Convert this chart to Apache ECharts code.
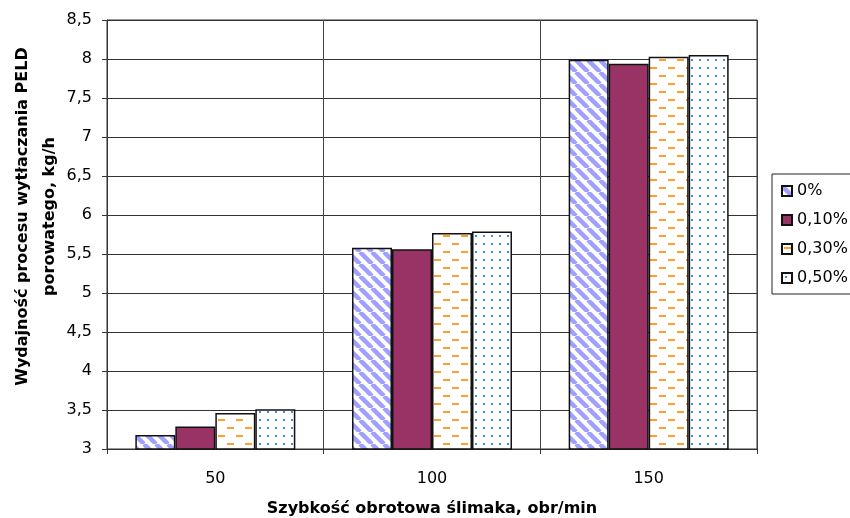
<!DOCTYPE html>
<html>
<head>
<meta charset="utf-8">
<script src="https://cdn.jsdelivr.net/npm/echarts@6/dist/echarts.min.js"></script>
<style>html,body{margin:0;padding:0;background:#fff;}#chart{width:850px;height:518px;}</style>
</head>
<body>
<div id="chart"></div>
<script>
const categories = ['50', '100', '150'];
const seriesNames = ['0%', '0,10%', '0,30%', '0,50%'];
const s0 = [3.18, 5.58, 7.99];
const s10 = [3.29, 5.56, 7.94];
const s30 = [3.46, 5.77, 8.03];
const s50 = [3.51, 5.79, 8.05];
const yTitle = 'Wydajność procesu wytłaczania PELD\nporowatego, kg/h';
const xTitle = 'Szybkość obrotowa ślimaka, obr/min';

function mk(w, h, draw) {
  const c = document.createElement('canvas');
  c.width = w; c.height = h;
  const g = c.getContext('2d');
  g.fillStyle = '#fff'; g.fillRect(0, 0, w, h);
  draw(g);
  return c;
}
const stripe = mk(12, 12, g => {
  g.strokeStyle = '#A0A0FF'; g.lineWidth = 4.5;
  for (let k = -24; k <= 24; k += 12) {
    g.beginPath(); g.moveTo(k, 0); g.lineTo(k + 12, 12); g.stroke();
  }
});
const dashes = mk(18, 16, g => {
  g.fillStyle = '#FFA028';
  g.fillRect(2, 3, 7, 2);
  g.fillRect(11, 11, 7, 2);
});
const dots = mk(8, 8, g => {
  g.fillStyle = '#3F8FE0';
  g.fillRect(3, 3, 2, 2);
});
const fills = [
  {image: stripe, repeat: 'repeat'},
  '#993366',
  {image: dashes, repeat: 'repeat'},
  {image: dots, repeat: 'repeat'}
];
const datas = [s0, s10, s30, s50];
const FONT = 'DejaVu Sans, sans-serif';

const chart = echarts.init(document.getElementById('chart'), null, {renderer: 'canvas'});
chart.setOption({
  animation: false,
  backgroundColor: '#fff',
  textStyle: {fontFamily: FONT},
  grid: {left: 107, right: 93, top: 20, bottom: 69, outerBoundsMode: 'none', containLabel: false, show: true, borderColor: '#333', borderWidth: 1, backgroundColor: 'transparent'},
  legend: {
    orient: 'vertical', left: 772, top: 174,
    data: seriesNames,
    itemWidth: 10, itemHeight: 10, itemGap: 13,
    icon: 'rect',
    borderColor: '#222', borderWidth: 1,
    padding: [9, 12, 8, 9],
    textStyle: {fontSize: 16, color: '#000', fontFamily: FONT, padding: [0, 0, 0, 0]}
  },
  xAxis: {
    type: 'category', data: categories,
    name: xTitle, nameLocation: 'middle', nameGap: 52, nameMoveOverlap: false,
    nameTextStyle: {fontSize: 16, fontWeight: 'bold', color: '#000', fontFamily: FONT},
    axisLine: {lineStyle: {color: '#333'}},
    axisTick: {show: true, length: 5, lineStyle: {color: '#333'}},
    axisLabel: {fontSize: 16, color: '#000', margin: 22, fontFamily: FONT},
    splitLine: {show: true, lineStyle: {color: '#444', width: 1}}
  },
  yAxis: {
    type: 'value', min: 3, max: 8.5, interval: 0.5,
    name: yTitle, nameLocation: 'middle', nameGap: 44, nameMoveOverlap: false,
    nameTextStyle: {fontSize: 16, fontWeight: 'bold', color: '#000', lineHeight: 27, fontFamily: FONT, padding: [0, 0, 0, 36]},
    axisLine: {show: true, lineStyle: {color: '#333'}},
    axisTick: {show: true, length: 5, lineStyle: {color: '#333'}},
    axisLabel: {fontSize: 16, color: '#000', margin: 15, fontFamily: FONT, formatter: v => String(v).replace('.', ',')},
    splitLine: {show: true, lineStyle: {color: '#333', width: 1}}
  },
  series: seriesNames.map((n, i) => ({
    name: n, type: 'bar', data: datas[i],
    barWidth: 40, barGap: '0%', barCategoryGap: '26%',
    itemStyle: {color: fills[i], borderColor: '#111', borderWidth: 1.5}
  }))
});
</script>
</body>
</html>
